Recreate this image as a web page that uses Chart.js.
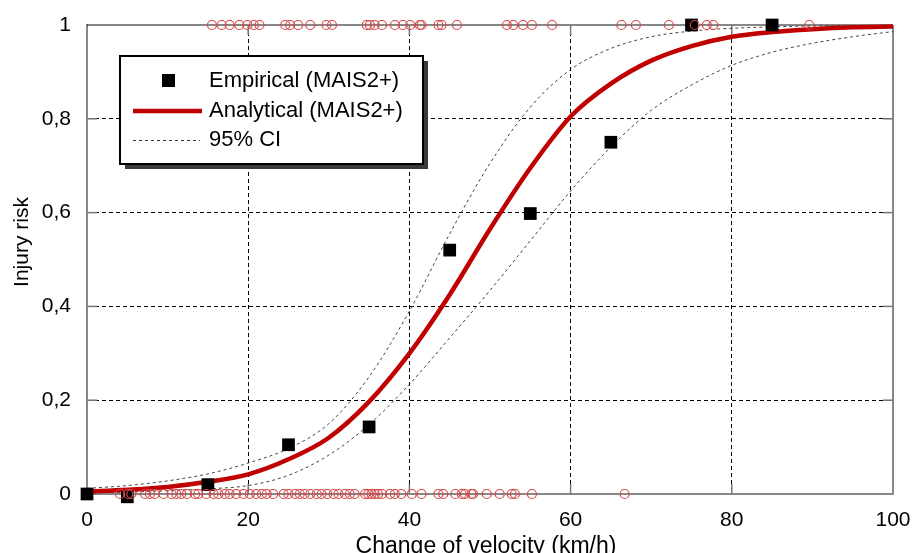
<!DOCTYPE html>
<html>
<head>
<meta charset="utf-8">
<script src="https://cdn.jsdelivr.net/npm/chart.js@4/dist/chart.umd.min.js"></script>
<style>
html, body { margin: 0; padding: 0; background: #fff; }
#wrap { width: 915px; height: 553px; }
</style>
</head>
<body>
<div id="wrap"><canvas id="grafikRisiko"></canvas></div>
<script>
// kurva (dibaca dari gambar tiap 5 km/h)
const speedCurve = [0, 5, 10, 15, 20, 25, 30, 35, 40, 45, 50, 55, 60, 65, 70, 75, 80, 85, 90, 95, 100];
const analytical = [0.005, 0.009, 0.015, 0.026, 0.042, 0.074, 0.12, 0.197, 0.30, 0.425, 0.565, 0.695, 0.805, 0.875, 0.924, 0.955, 0.975, 0.985, 0.991, 0.995, 0.997];
const ciUpper = [0.012, 0.018, 0.028, 0.043, 0.066, 0.097, 0.15, 0.25, 0.39, 0.555, 0.705, 0.825, 0.905, 0.95, 0.975, 0.987, 0.993, 0.996, 0.998, 0.999, 1.0];
const ciLower = [0.002, 0.004, 0.007, 0.011, 0.018, 0.04, 0.083, 0.148, 0.234, 0.333, 0.434, 0.54, 0.646, 0.74, 0.818, 0.872, 0.914, 0.942, 0.961, 0.975, 0.986];

// empiris
const speedEmp = [0, 5, 15, 25, 35, 45, 55, 65, 75, 85];
const riskEmp = [0, -0.006, 0.02, 0.105, 0.143, 0.52, 0.598, 0.75, 1, 1];

// kasus tunggal: cedera (risk 1) dan tidak cedera (risk 0)
const injuredSpeed = [15.5, 16.7, 17.7, 18.9, 19.9, 20.7, 21.4, 24.6, 25.2, 26.2, 27.7, 29.7, 30.4, 34.7, 35.1, 35.7, 36.6, 38.2, 39.2, 40.1, 41.3, 41.5, 43.6, 44.0, 45.9, 52.1, 52.9, 54.1, 55.2, 57.7, 66.3, 68.1, 72.2, 75.4, 76.9, 77.7, 89.6];
const uninjuredSpeed = [4.1, 5.1, 5.5, 7.2, 7.8, 8.4, 9.5, 10.5, 11.1, 11.7, 12.4, 13.4, 13.8, 14.8, 15.7, 16.3, 17.1, 17.7, 18.5, 19.4, 20.2, 21.0, 21.7, 22.3, 23.1, 24.4, 25.0, 25.8, 26.4, 27.0, 27.7, 28.5, 29.1, 29.8, 30.6, 31.2, 32.0, 32.6, 33.2, 34.5, 34.9, 35.3, 35.7, 36.1, 36.6, 37.6, 38.2, 39.0, 40.3, 41.5, 43.6, 44.2, 45.7, 46.5, 46.9, 47.7, 47.9, 49.6, 51.2, 52.7, 53.1, 55.2, 66.7];
const injuredRisk = 1;
const uninjuredRisk = 0;

const xTicks = [0, 20, 40, 60, 80, 100];
const yTickLabels = ['0', '0,2', '0,4', '0,6', '0,8', '1'];

const labelEmp = 'Empirical (MAIS2+)';
const labelAna = 'Analytical (MAIS2+)';
const labelCI = '95% CI';

const FONT = '"Liberation Sans", Arial, sans-serif';

const toPts = (xs, ys) => xs.map((x, i) => ({ x: x, y: ys[i] }));

const frameAndLegend = {
    id: 'frameAndLegend',
    beforeDatasetsDraw(chart) {
        const c = chart.ctx;
        const a = chart.chartArea;
        const sx = chart.scales.x, sy = chart.scales.y;
        c.save();
        // garis atas & kanan
        c.strokeStyle = '#111';
        c.lineWidth = 1.2;
        c.beginPath(); c.moveTo(a.left, a.top); c.lineTo(a.right, a.top); c.stroke();
        c.strokeStyle = '#888';
        c.lineWidth = 2;
        c.beginPath(); c.moveTo(a.right, a.top); c.lineTo(a.right, a.bottom); c.stroke();
        // tick kecil ke dalam
        c.lineWidth = 1.5;
        c.strokeStyle = '#777';
        [20, 40, 60, 80].forEach(v => {
            const px = sx.getPixelForValue(v);
            c.beginPath(); c.moveTo(px, a.bottom); c.lineTo(px, a.bottom - 10); c.stroke();
            c.beginPath(); c.moveTo(px, a.top); c.lineTo(px, a.top + 10); c.stroke();
        });
        [0.2, 0.4, 0.6, 0.8].forEach(v => {
            const py = sy.getPixelForValue(v);
            c.beginPath(); c.moveTo(a.left, py); c.lineTo(a.left + 10, py); c.stroke();
            c.beginPath(); c.moveTo(a.right, py); c.lineTo(a.right - 10, py); c.stroke();
        });
        c.restore();
    },
    afterDraw(chart) {
        const c = chart.ctx;
        const a = chart.chartArea;
        c.save();
        // judul sumbu
        c.fillStyle = '#000';
        c.font = '21px ' + FONT;
        c.textAlign = 'center';
        c.textBaseline = 'middle';
        c.save();
        c.translate(22, 242);
        c.rotate(-Math.PI / 2);
        c.fillText('Injury risk', 0, 0);
        c.restore();
        c.font = '23px ' + FONT;
        c.fillText('Change of velocity (km/h)', (a.left + a.right) / 2 - 4, 547);

        // kotak legenda
        const bx = 120, by = 56, bw = 303, bh = 108;
        c.fillStyle = '#3a3a3a';
        c.fillRect(bx + 5, by + 5, bw, bh);
        c.fillStyle = '#fff';
        c.fillRect(bx, by, bw, bh);
        c.strokeStyle = '#000';
        c.lineWidth = 2;
        c.strokeRect(bx, by, bw, bh);

        c.fillStyle = '#000';
        c.fillRect(162, 74, 13, 13);
        c.strokeStyle = '#c00000';
        c.lineWidth = 4.5;
        c.beginPath(); c.moveTo(133, 111); c.lineTo(202, 111); c.stroke();
        c.strokeStyle = '#333';
        c.lineWidth = 1;
        c.setLineDash([3, 3]);
        c.beginPath(); c.moveTo(133, 140.5); c.lineTo(200, 140.5); c.stroke();
        c.setLineDash([]);

        c.font = '22px ' + FONT;
        c.textAlign = 'left';
        c.fillStyle = '#000';
        c.fillText(labelEmp, 209, 81);
        c.fillText(labelAna, 209, 111);
        c.fillText(labelCI, 209, 140);
        c.restore();
    }
};

const ctx = document.getElementById('grafikRisiko').getContext('2d');
const chart = new Chart(ctx, {
    type: 'scatter',
    data: {
        datasets: [
            {
                label: 'injured',
                data: injuredSpeed.map(v => ({ x: v, y: injuredRisk })),
                pointStyle: 'circle',
                pointRadius: 4.5,
                pointBorderWidth: 1.2,
                borderColor: 'rgb(214, 72, 72)',
                backgroundColor: 'rgba(255,255,255,0)',
                clip: false,
                order: 1
            },
            {
                label: 'uninjured',
                data: uninjuredSpeed.map(v => ({ x: v, y: uninjuredRisk })),
                pointStyle: 'circle',
                pointRadius: 4.5,
                pointBorderWidth: 1.2,
                borderColor: 'rgb(214, 72, 72)',
                backgroundColor: 'rgba(255,255,255,0)',
                clip: false,
                order: 1
            },
            {
                label: labelEmp,
                data: toPts(speedEmp, riskEmp),
                pointStyle: 'rect',
                pointRadius: 9,
                pointBorderWidth: 0,
                backgroundColor: '#000',
                borderColor: '#000',
                clip: false,
                order: 2
            },
            {
                label: labelAna,
                data: toPts(speedCurve, analytical),
                showLine: true,
                borderColor: '#c00000',
                borderWidth: 4.5,
                pointRadius: 0,
                cubicInterpolationMode: 'monotone',
                clip: false,
                order: 3
            },
            {
                label: labelCI,
                data: toPts(speedCurve, ciUpper),
                showLine: true,
                borderColor: '#444',
                borderWidth: 1,
                borderDash: [3, 3],
                pointRadius: 0,
                cubicInterpolationMode: 'monotone',
                order: 4
            },
            {
                label: labelCI + ' lower',
                data: toPts(speedCurve, ciLower),
                showLine: true,
                borderColor: '#444',
                borderWidth: 1,
                borderDash: [3, 3],
                pointRadius: 0,
                cubicInterpolationMode: 'monotone',
                order: 4
            }
        ]
    },
    options: {
        responsive: true,
        maintainAspectRatio: false,
        animation: false,
        layout: { padding: { top: 25, right: 22, left: 0, bottom: 0 } },
        plugins: {
            legend: { display: false },
            tooltip: { enabled: false }
        },
        scales: {
            x: {
                type: 'linear',
                min: 0,
                max: 100,
                afterFit: s => { s.height = 59; s.paddingLeft = 0; s.paddingRight = 0; },
                afterBuildTicks: s => { s.ticks = xTicks.map(v => ({ value: v })); },
                ticks: {
                    color: '#000',
                    padding: 14,
                    maxRotation: 0,
                    font: { family: FONT, size: 21 }
                },
                grid: {
                    drawTicks: false,
                    color: c => (c.tick && (c.tick.value === 0 || c.tick.value === 100)) ? 'rgba(0,0,0,0)' : '#000',
                    lineWidth: 1
                },
                border: { display: true, color: '#888', width: 2, dash: [4, 3] }
            },
            y: {
                min: 0,
                max: 1,
                afterFit: s => { s.width = 87; s.paddingTop = 0; s.paddingBottom = 0; },
                afterBuildTicks: s => { s.ticks = yTickLabels.map((t, i) => ({ value: i * 0.2 })); },
                ticks: {
                    color: '#000',
                    padding: 16,
                    font: { family: FONT, size: 21 },
                    callback: (v, i) => yTickLabels[i]
                },
                grid: {
                    drawTicks: false,
                    color: c => (c.tick && (c.index === 0 || c.index === 5)) ? 'rgba(0,0,0,0)' : '#000',
                    lineWidth: 1
                },
                border: { display: true, color: '#888', width: 2, dash: [4, 3] }
            }
        }
    },
    plugins: [frameAndLegend]
});
</script>
</body>
</html>
